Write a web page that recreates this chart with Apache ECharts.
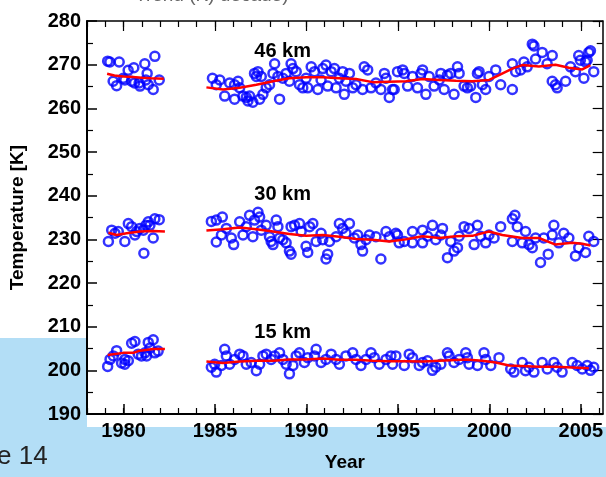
<!DOCTYPE html>
<html>
<head>
<meta charset="utf-8">
<script src="https://cdn.jsdelivr.net/npm/echarts@6/dist/echarts.min.js"></script>
<style>
html,body{margin:0;padding:0;background:#fff;}
#chart{width:606px;height:477px;}
</style>
</head>
<body>
<div id="chart"></div>
<script>
// ---------- Data ----------
var xMajorTicks = [1980, 1985, 1990, 1995, 2000, 2005];
var yTickValues = [190, 200, 210, 220, 230, 240, 250, 260, 270, 280];
var layerNames = ['46 km', '30 km', '15 km'];
var layerLabelAnchors = [[1988.7, 273.1], [1988.7, 240.3], [1988.7, 208.65]];

// 46 km observations
var obs46Early = [
  [1979.13,270.8],[1979.25,270.6],[1979.76,270.6],[1979.43,266.2],[1979.62,265.2],[1979.98,266.9],
  [1980.07,266.5],[1980.25,268.7],[1980.44,266.2],[1980.56,269.3],[1980.6,265.8],[1980.85,265.8],
  [1980.9,265.1],[1981.16,270.2],[1981.22,266.5],[1981.29,268.0],[1981.35,265.4],[1981.62,264.3],
  [1981.71,271.9],[1981.95,266.5]
];
var obs46Late = [
  [1984.86,266.9],[1985.26,266.5],[1985.07,265.4],[1985.53,262.8],[1985.80,265.8],[1986.07,265.4],
  [1986.26,266.2],[1986.35,264.7],[1986.07,262.1],[1986.53,262.8],[1986.71,262.5],[1986.89,262.8],
  [1987.07,261.4],[1986.80,261.7],[1987.16,268.0],[1987.35,268.4],[1987.26,267.3],[1987.53,267.3],
  [1987.62,263.2],[1987.44,262.1],[1987.80,264.7],[1987.98,265.4],[1988.17,268.0],[1988.26,270.2],
  [1988.44,267.3],[1988.53,262.1],[1988.71,266.9],[1988.89,268.0],[1989.16,270.2],[1989.07,266.2],
  [1989.26,269.1],[1989.44,268.4],[1989.62,265.4],[1989.80,264.7],[1990.07,264.7],[1989.98,266.9],
  [1990.26,269.5],[1990.44,268.4],[1990.62,264.3],[1990.80,266.5],[1990.89,269.1],[1991.07,269.9],
  [1991.16,265.1],[1991.35,268.4],[1991.53,269.1],[1991.62,264.7],[1991.80,266.9],[1991.98,268.4],
  [1992.07,263.2],[1992.16,266.2],[1992.35,268.0],[1992.53,264.7],[1992.71,265.4],[1993.07,264.3],
  [1993.16,269.5],[1993.35,268.8],[1993.53,264.7],[1993.80,265.8],[1994.07,264.3],[1994.26,268.0],
  [1994.35,266.9],[1994.53,262.5],[1994.71,264.3],[1994.98,268.4],[1994.80,264.3],[1995.26,268.8],
  [1995.35,268.0],[1995.53,265.1],[1995.80,267.3],[1996.07,264.7],[1996.26,268.0],[1996.35,268.8],
  [1996.53,263.2],[1996.71,267.3],[1996.98,265.1],[1997.26,266.5],[1997.35,268.0],[1997.53,264.3],
  [1997.71,267.6],[1997.89,268.0],[1998.07,263.2],[1998.26,269.5],[1998.35,268.0],[1998.62,265.1],
  [1998.80,264.7],[1998.98,265.1],[1999.26,262.5],[1999.35,268.0],[1999.44,268.4],[1999.62,265.4],
  [1999.80,264.3],[1999.98,267.3],[2000.35,268.8],[2000.62,265.4],[2001.26,264.3],[2001.26,270.2],
  [2001.44,268.4],[2001.71,268.8],[2001.89,270.6],[2002.07,269.5],[2002.35,274.7],[2002.44,274.3],
  [2002.53,271.3],[2002.89,272.8],[2003.16,270.2],[2003.44,272.1],[2003.44,266.2],[2003.62,265.4],
  [2003.71,264.7],[2004.17,266.2],[2004.44,269.5],[2004.71,268.4],[2004.89,272.1],[2004.98,271.0],
  [2005.17,266.9],[2005.26,270.6],[2005.35,271.0],[2005.44,272.8],[2005.53,273.2],[2005.71,268.4]
];
var fit46Early = [[1979.1,267.9],[1979.5,267.5],[1980.0,267.3],[1980.5,267.2],[1981.0,267.0],[1981.5,266.9],[1982.2,266.8]];
var fit46Late = [
  [1984.53,264.8],[1985.44,264.3],[1986.35,264.7],[1987.26,265.4],[1988.17,266.2],[1989.07,266.9],
  [1989.98,267.1],[1990.89,267.1],[1991.80,266.9],[1992.71,266.7],[1993.62,266.0],[1994.53,266.1],
  [1995.44,266.2],[1996.35,266.7],[1997.26,266.5],[1998.17,266.3],[1999.07,266.2],[1999.99,266.5],
  [2000.53,267.6],[2001.26,269.1],[2001.80,269.9],[2002.71,269.6],[2003.62,270.0],[2004.35,269.3],
  [2005.08,268.9],[2005.53,269.9]
];

// 30 km observations
var obs30Early = [
  [1979.17,229.5],[1979.35,232.1],[1979.53,231.4],[1979.71,231.8],[1980.07,229.5],[1980.26,233.6],
  [1980.44,232.9],[1980.62,231.0],[1980.71,231.8],[1980.89,232.5],[1981.08,232.1],[1981.11,226.8],
  [1981.22,233.2],[1981.35,234.0],[1981.44,233.2],[1981.62,230.3],[1981.71,234.7],[1981.95,234.5]
];
var obs30Late = [
  [1984.80,234.1],[1985.07,234.4],[1985.40,235.1],[1985.07,229.4],[1985.35,231.0],[1985.62,232.5],
  [1985.89,230.3],[1986.02,228.8],[1986.35,234.0],[1986.53,231.0],[1986.71,232.9],[1986.89,235.5],
  [1987.07,230.6],[1987.16,234.4],[1987.35,236.2],[1987.44,235.1],[1987.53,232.1],[1987.80,233.2],
  [1987.98,230.6],[1988.07,229.5],[1988.17,228.8],[1988.35,234.4],[1988.44,232.9],[1988.53,230.3],
  [1988.71,229.9],[1988.89,229.2],[1989.07,227.3],[1989.16,226.6],[1989.16,232.9],[1989.35,233.2],
  [1989.62,233.6],[1989.71,231.8],[1989.98,228.4],[1990.07,227.0],[1990.17,232.9],[1990.35,233.6],
  [1990.53,229.5],[1990.80,231.4],[1990.89,229.9],[1991.07,225.5],[1991.16,226.6],[1991.26,229.5],
  [1991.62,230.6],[1991.80,233.6],[1991.98,232.5],[1992.16,231.4],[1992.35,233.6],[1992.62,230.3],
  [1992.80,231.0],[1992.98,228.8],[1993.07,227.3],[1993.26,229.9],[1993.44,231.0],[1993.80,230.6],
  [1994.07,225.5],[1994.35,231.8],[1994.53,230.6],[1994.98,231.0],[1994.89,231.4],[1995.07,229.2],
  [1995.35,229.5],[1995.80,231.8],[1995.80,229.2],[1996.35,232.1],[1996.35,229.2],[1996.62,230.7],
  [1996.89,233.2],[1997.07,229.9],[1997.35,231.0],[1997.44,232.5],[1997.71,225.8],[1997.89,229.5],
  [1998.07,227.3],[1998.26,228.1],[1998.35,230.7],[1998.62,232.9],[1998.89,232.5],[1999.17,228.8],
  [1999.35,233.2],[1999.53,230.7],[1999.80,229.2],[1999.98,231.0],[2000.26,230.3],[2000.62,232.9],
  [2001.26,234.7],[2001.40,235.5],[2001.26,229.5],[2001.53,232.9],[2001.80,229.2],[2001.98,231.8],
  [2002.17,228.8],[2002.35,228.1],[2002.53,230.3],[2002.80,224.7],[2002.98,230.3],[2003.22,226.6],
  [2003.44,231.0],[2003.53,233.2],[2003.80,229.2],[2004.07,231.4],[2004.35,230.3],[2004.71,226.2],
  [2004.89,228.1],[2005.26,227.0],[2005.44,230.7],[2005.71,229.5]
];
var fit30Early = [[1979.17,231.5],[1979.62,231.0],[1980.17,231.4],[1980.89,231.8],[1981.62,231.9],[1982.26,231.8]];
var fit30Late = [
  [1984.53,232.0],[1985.44,232.3],[1986.35,232.7],[1987.26,232.3],[1988.17,231.8],[1989.07,231.2],
  [1989.98,230.8],[1990.89,231.0],[1991.80,230.6],[1992.71,230.1],[1993.62,229.9],[1994.53,229.5],
  [1995.44,230.0],[1996.35,230.7],[1997.26,230.3],[1998.17,230.7],[1999.07,230.8],[1999.98,231.8],
  [2000.71,231.0],[2001.80,230.3],[2002.71,230.3],[2003.62,228.8],[2004.53,229.2],[2005.08,229.0],
  [2005.53,228.6]
];

// 15 km observations
var obs15Early = [
  [1979.13,200.9],[1979.26,202.5],[1979.44,203.3],[1979.62,204.5],[1979.89,201.7],[1980.07,202.5],
  [1980.07,201.4],[1980.26,202.2],[1980.44,206.2],[1980.62,206.6],[1980.80,203.7],[1980.98,203.3],
  [1981.17,204.0],[1981.26,203.3],[1981.35,206.4],[1981.44,205.1],[1981.62,207.0],[1981.71,204.0],
  [1981.89,204.4]
];
var obs15Late = [
  [1984.80,200.7],[1985.07,199.6],[1984.98,201.4],[1985.35,201.1],[1985.53,204.8],[1985.62,203.3],
  [1985.80,201.4],[1986.07,202.5],[1986.35,203.7],[1986.53,203.3],[1986.71,201.4],[1986.98,201.8],
  [1987.26,199.9],[1987.44,201.4],[1987.62,203.3],[1987.80,203.7],[1988.07,202.5],[1988.26,203.3],
  [1988.53,204.0],[1988.71,202.5],[1988.89,201.4],[1989.07,199.2],[1989.26,201.1],[1989.44,203.3],
  [1989.62,204.0],[1989.89,201.8],[1990.07,202.9],[1990.53,204.8],[1990.44,203.3],[1990.80,201.8],
  [1991.07,202.5],[1991.35,203.7],[1991.62,202.5],[1991.80,201.4],[1992.16,203.3],[1992.53,204.0],
  [1992.71,202.5],[1992.98,201.1],[1993.26,202.5],[1993.53,204.0],[1993.71,202.9],[1993.98,201.4],
  [1994.35,202.5],[1994.62,203.3],[1994.71,201.4],[1994.89,203.3],[1995.35,201.1],[1995.62,203.7],
  [1995.80,202.9],[1996.17,201.1],[1996.35,201.8],[1996.62,202.2],[1996.89,200.0],[1997.07,200.7],
  [1997.35,201.4],[1997.71,204.0],[1997.80,203.3],[1998.07,201.8],[1998.35,202.5],[1998.71,204.0],
  [1998.80,202.9],[1998.89,201.4],[1999.35,201.1],[1999.71,204.0],[1999.80,202.5],[2000.08,201.1],
  [2000.53,202.9],[2001.17,200.3],[2001.35,199.6],[2001.80,201.8],[2001.98,199.9],[2002.17,200.7],
  [2002.44,199.6],[2002.89,201.8],[2003.17,200.3],[2003.53,201.8],[2003.71,200.7],[2003.98,199.6],
  [2004.53,201.8],[2004.80,201.1],[2005.08,200.3],[2005.35,201.1],[2005.53,200.0],[2005.71,200.7]
];
var fit15Early = [[1979.13,203.5],[1979.98,204.0],[1980.53,204.0],[1980.89,204.5],[1981.62,204.9],[1982.26,204.9]];
var fit15Late = [
  [1984.53,202.0],[1985.44,201.7],[1986.35,202.0],[1987.26,202.2],[1988.17,202.2],[1989.07,202.5],
  [1989.98,202.5],[1990.89,202.7],[1991.80,202.4],[1992.71,202.4],[1993.62,202.2],[1994.53,202.1],
  [1995.44,202.1],[1996.35,202.0],[1997.26,202.2],[1998.71,202.5],[1999.62,202.2],[2000.35,201.8],
  [2001.08,201.1],[2002.71,200.8],[2003.62,200.8],[2005.44,200.5]
];

// ---------- Chart ----------
var FONT = '"Liberation Sans", Arial, Helvetica, sans-serif';
var chart = echarts.init(document.getElementById('chart'), null, {renderer: 'canvas'});

function obsSeries(data) {
  return {
    type: 'scatter', xAxisIndex: 0, yAxisIndex: 0, data: data,
    symbol: 'circle', symbolSize: 9,
    itemStyle: {color: 'rgba(0,0,0,0)', borderColor: '#0000FF', borderWidth: 2.5},
    emphasis: {disabled: true}, silent: true, z: 2
  };
}
function fitSeries(data) {
  return {
    type: 'line', xAxisIndex: 0, yAxisIndex: 0, data: data,
    showSymbol: false, symbol: 'none',
    lineStyle: {color: '#FF0000', width: 2.5},
    emphasis: {disabled: true}, silent: true, z: 3
  };
}

var xMin = 1978, xMax = 2006.2;
var yearTicks = [];
for (var yy = 1978; yy <= 2006; yy++) yearTicks.push(yy);

var baseX = {
  type: 'value', min: xMin, max: xMax, splitLine: {show: false}
};

var option = {
  animation: false,
  backgroundColor: '#ffffff',
  grid: {left: 87, right: 2, top: 21, bottom: 50, show: true, backgroundColor: '#ffffff', borderWidth: 0, containLabel: false},
  xAxis: [
    Object.assign({}, baseX, {
      position: 'bottom',
      axisLine: {show: true, lineStyle: {color: '#000', width: 2}},
      axisTick: {show: true, inside: true, length: 10, lineStyle: {color: '#000', width: 1.5}, customValues: xMajorTicks},
      axisLabel: {show: true, customValues: xMajorTicks, formatter: function (v) { return String(Math.round(v)); },
        color: '#000', fontFamily: FONT, fontWeight: 'bold', fontSize: 20, margin: 7},
      name: 'Year', nameLocation: 'middle', nameGap: 39,
      nameTextStyle: {color: '#000', fontFamily: FONT, fontWeight: 'bold', fontSize: 19}
    }),
    Object.assign({}, baseX, {
      position: 'bottom',
      axisLine: {show: false},
      axisTick: {show: true, inside: true, length: 6, lineStyle: {color: '#000', width: 1.2}, customValues: yearTicks},
      axisLabel: {show: false}
    }),
    Object.assign({}, baseX, {
      position: 'top',
      axisLine: {show: true, lineStyle: {color: '#000', width: 1.5}},
      axisTick: {show: true, inside: true, length: 10, lineStyle: {color: '#000', width: 1.2}, customValues: xMajorTicks},
      axisLabel: {show: false}
    }),
    Object.assign({}, baseX, {
      position: 'top',
      axisLine: {show: false},
      axisTick: {show: true, inside: true, length: 6, lineStyle: {color: '#000', width: 1.2}, customValues: yearTicks},
      axisLabel: {show: false}
    })
  ],
  yAxis: [
    {
      type: 'value', min: yTickValues[0], max: yTickValues[yTickValues.length - 1], interval: 10, position: 'left',
      splitLine: {show: false},
      axisLine: {show: true, lineStyle: {color: '#000', width: 2}},
      axisTick: {show: true, inside: true, length: 10, lineStyle: {color: '#000', width: 1.5}},
      minorTick: {show: true, splitNumber: 2, length: 6, lineStyle: {color: '#000', width: 1.2}},
      axisLabel: {color: '#000', fontFamily: FONT, fontWeight: 'bold', fontSize: 20, margin: 6},
      name: 'Temperature [K]', nameLocation: 'middle', nameGap: 60, nameRotate: 90,
      nameTextStyle: {color: '#000', fontFamily: FONT, fontWeight: 'bold', fontSize: 19}
    },
    {
      type: 'value', min: yTickValues[0], max: yTickValues[yTickValues.length - 1], interval: 10, position: 'right',
      splitLine: {show: false},
      axisLine: {show: true, lineStyle: {color: '#000', width: 1.5}},
      axisTick: {show: true, inside: true, length: 10, lineStyle: {color: '#000', width: 1.2}},
      minorTick: {show: true, splitNumber: 2, length: 6, lineStyle: {color: '#000', width: 1.2}},
      axisLabel: {show: false}
    }
  ],
  series: [
    obsSeries(obs46Early), obsSeries(obs46Late),
    obsSeries(obs30Early), obsSeries(obs30Late),
    obsSeries(obs15Early), obsSeries(obs15Late),
    fitSeries(fit46Early), fitSeries(fit46Late),
    fitSeries(fit30Early), fitSeries(fit30Late),
    fitSeries(fit15Early), fitSeries(fit15Late)
  ]
};
chart.setOption(option);

// Decorations: slide background band, slide texts, and layer labels placed through the chart's own scales
var graphics = [
  {type: 'rect', z: -10, shape: {x: 0, y: 338, width: 87, height: 139}, style: {fill: '#B3DEF6'}},
  {type: 'rect', z: -10, shape: {x: 0, y: 427, width: 606, height: 50}, style: {fill: '#B3DEF6'}},
  {type: 'text', z: 5, left: -3, top: 444, style: {text: 'e 14', font: '26px ' + FONT, fill: '#222'}},
  {type: 'text', z: 5, left: 135, top: -14, style: {text: 'Trend (K) decade)', font: '19px ' + FONT, fill: '#666'}}
];
layerNames.forEach(function (n, i) {
  var p = chart.convertToPixel({xAxisIndex: 0, yAxisIndex: 0}, layerLabelAnchors[i]);
  graphics.push({type: 'text', z: 10, x: p[0], y: p[1],
    style: {text: n, font: 'bold 20px ' + FONT, fill: '#000', align: 'center', verticalAlign: 'middle'}});
});
chart.setOption({graphic: graphics});
</script>
</body>
</html>
